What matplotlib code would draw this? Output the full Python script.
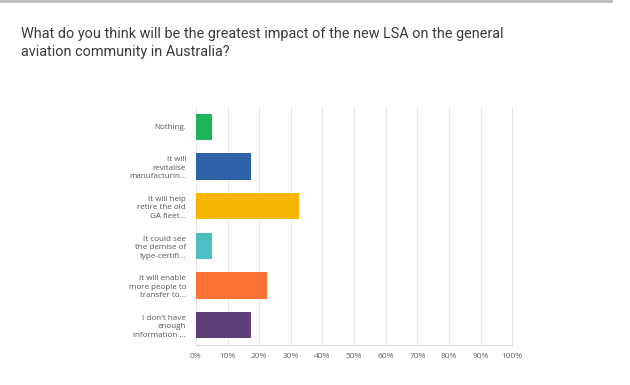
import matplotlib
matplotlib.use('Agg')
import matplotlib.pyplot as plt
from matplotlib.ticker import PercentFormatter

answers = ['Nothing.',
           'It will\nrevitalise\nmanufacturin...',
           'It will help\nretire the old\nGA fleet...',
           'It could see\nthe demise of\ntype-certifi...',
           'It will enable\nmore people to\ntransfer to...',
           "I don't have\nenough\ninformation ..."]
shares = [5.0, 17.5, 32.5, 5.0, 22.5, 17.5]
colors = ['#1db45a', '#2e62a8', '#f7b400', '#4cbfc2', '#fe7334', '#5f3f78']
ticks = list(range(0, 101, 10))

plt.rcParams['font.family'] = ['Open Sans', 'DejaVu Sans']

fig = plt.figure(figsize=(6.3, 3.85), dpi=100)
ax = fig.add_axes([0.311, 0.104, 0.502, 0.618])

pos = list(range(len(answers)))
ax.barh(pos, shares, height=0.67, color=colors, zorder=3)
ax.set_ylim(len(answers) - 0.5, -0.5)
ax.set_xlim(0, 100)
ax.set_xticks(ticks)
ax.xaxis.set_major_formatter(PercentFormatter(decimals=0))
ax.set_yticks(pos)
ax.set_yticklabels(answers, fontsize=5.8, color='#555555', linespacing=1.3)
ax.tick_params(axis='x', labelsize=6, colors='#666666', length=0, pad=6)
ax.tick_params(axis='y', length=0, pad=7)
ax.grid(axis='x', color='#e8e8e8', linewidth=0.8, zorder=0)
for side in ['top', 'left']:
    ax.spines[side].set_visible(False)
ax.spines['right'].set_color('#e8e8e8')
ax.spines['bottom'].set_color('#dddddd')

# question text
fig.text(21 / 630, 1 - 43 / 385,
         'What do you think will be the greatest impact of the new LSA on the general\naviation community in Australia?',
         family=['Roboto', 'DejaVu Sans'],
         fontsize=10.35, color='#3a3a3a', va='center', ha='left', linespacing=1.4)

# grey strip at the top
fig.add_artist(plt.Line2D([0.0, 0.97], [0.997, 0.997], transform=fig.transFigure,
                          color='#bbbbbb', linewidth=2))

fig.savefig('out.png', dpi=100, facecolor='white')
